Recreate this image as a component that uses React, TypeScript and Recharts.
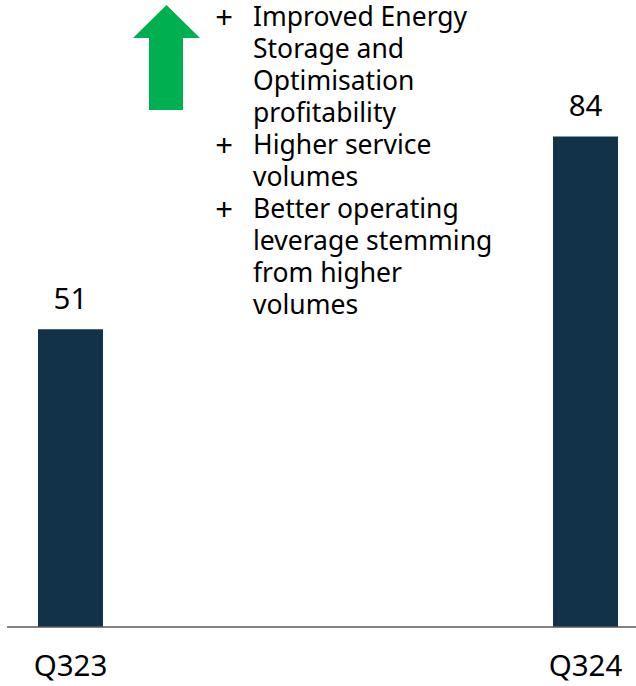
import { BarChart, Bar, XAxis, YAxis, LabelList } from 'recharts'

const categories = ['Q323', 'Q324']
const ebitda = [51, 84]

const drivers = [
  ['Improved Energy', 'Storage and', 'Optimisation', 'profitability'],
  ['Higher service', 'volumes'],
  ['Better operating', 'leverage stemming', 'from higher', 'volumes'],
]

const data = categories.map((name, i) => ({ i, name, value: ebitda[i] }))

const FONT = '"Noto Sans", "Open Sans", sans-serif'

function Drivers() {
  let line = 0
  return (
    <svg width={636} height={340} style={{ position: 'absolute', left: 0, top: 0 }}>
      <polygon points="133,38 166.5,5 200,38 183,38 183,110 149,110 149,38" fill="#00B050" />
      {drivers.map((lines, k) => {
        const start = line
        line += lines.length
        return (
          <g key={k} fontFamily={FONT} fill="#000">
            <text x={224} y={28 + start * 32} textAnchor="middle" fontSize={31}>+</text>
            {lines.map((t, j) => (
              <text key={j} x={253} y={26 + (start + j) * 32} fontSize={26.5}>{t}</text>
            ))}
          </g>
        )
      })}
    </svg>
  )
}

export default function App() {
  return (
    <div style={{ position: 'absolute', left: 0, top: 0, width: 636, height: 686, background: '#fff' }}>
      <BarChart width={636} height={686} data={data} margin={{ top: 43, right: 0, bottom: 0, left: 7 }}>
        <XAxis
          dataKey="i"
          type="number"
          domain={[-0.1233, 1.098]}
          ticks={[0, 1]}
          tickFormatter={(v) => categories[v]}
          height={59}
          tickLine={false}
          axisLine={{ stroke: '#595959', strokeWidth: 1.5 }}
          tick={{ fontSize: 29.5, fill: '#000', fontFamily: FONT }}
          tickMargin={22}
          allowDataOverflow
        />
        <YAxis hide domain={[0, 100]} />
        <Bar dataKey="value" fill="#12324A" barSize={65} isAnimationActive={false}>
          <LabelList dataKey="value" position="top" offset={20} fill="#000" fontSize={29.5} fontFamily={FONT} />
        </Bar>
      </BarChart>
      <Drivers />
    </div>
  )
}
